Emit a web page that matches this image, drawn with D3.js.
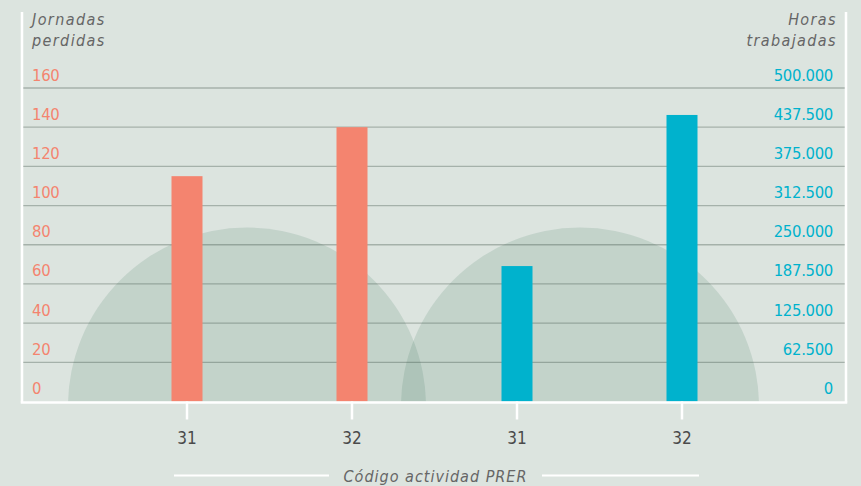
<!DOCTYPE html>
<html>
<head>
<meta charset="utf-8">
<script src="https://cdn.jsdelivr.net/npm/d3@7"></script>
<style>
  html, body { margin: 0; padding: 0; background: #dce4df; }
  svg { display: block; }
  text { font-family: "DejaVu Sans Condensed", "Liberation Sans Narrow", sans-serif; }
</style>
</head>
<body>
<div id="chartArea"></div>
<script>
// Chart values
const codes = ["31", "32", "31", "32"];
const keys = ["j31", "j32", "h31", "h32"];
const jornadas = [115, 140];          // Jornadas perdidas (left axis)
const horas = [216000, 457000];       // Horas trabajadas (right axis)
const leftTicks = [0, 20, 40, 60, 80, 100, 120, 140, 160];
const rightTicks = [0, 62500, 125000, 187500, 250000, 312500, 375000, 437500, 500000];

function drawGraph() {
    let width = 861, height = 486;

    // plot frame
    let frame = { left: 22, right: 846, top: 12, base: 401.5, topValue: 88 };

    let svg = d3.select('#chartArea')
        .append('svg')
            .attr('width', width)
            .attr('height', height);

    let xScale = d3.scaleBand()
        .domain(keys)
        .range([104.5, 764.5]);

    let yLeft = d3.scaleLinear().domain([0, 160]).range([frame.base, frame.topValue]);
    let yRight = d3.scaleLinear().domain([0, 500000]).range([frame.base, frame.topValue]);

    let es = d3.formatLocale({ decimal: ',', thousands: '.', grouping: [3], currency: ['', '€'] });
    let fmtRight = es.format(',');

    // decorative half discs behind the bars
    svg.append('clipPath').attr('id', 'above')
        .append('rect')
            .attr('x', 0).attr('y', 0)
            .attr('width', width).attr('height', frame.base);

    svg.append('g')
        .attr('clip-path', 'url(#above)')
        .selectAll('circle')
        .data([247, 580])
        .enter().append('circle')
            .attr('cx', d => d)
            .attr('cy', frame.base + 5)
            .attr('r', 179)
            .attr('fill', 'rgb(53,115,90)')
            .attr('fill-opacity', 0.15);

    // gridlines
    svg.append('g')
        .selectAll('line')
        .data(leftTicks.filter(d => d > 0))
        .enter().append('line')
            .attr('x1', frame.left)
            .attr('x2', frame.right)
            .attr('y1', d => yLeft(d))
            .attr('y2', d => yLeft(d))
            .attr('stroke', 'rgb(40,60,50)')
            .attr('stroke-opacity', 0.3)
            .attr('stroke-width', 1.3);

    // tick labels left
    svg.append('g')
        .selectAll('text')
        .data(leftTicks)
        .enter().append('text')
            .attr('x', 32)
            .attr('y', d => yLeft(d) - 7.5)
            .attr('fill', '#f4846f')
            .style('font-size', '16.5px')
            .style('letter-spacing', '-0.3px')
            .text(d => d);

    // tick labels right
    svg.append('g')
        .selectAll('text')
        .data(rightTicks)
        .enter().append('text')
            .attr('x', 833)
            .attr('y', d => yRight(d) - 7.5)
            .attr('text-anchor', 'end')
            .attr('fill', '#00b2cd')
            .style('font-size', '16.5px')
            .style('letter-spacing', '-0.3px')
            .text(d => fmtRight(d));

    // axis titles
    let leftTitle = svg.append('text')
        .attr('x', 32)
        .attr('fill', '#666')
        .style('font-size', '16px')
        .style('font-style', 'italic')
        .style('letter-spacing', '1.4px');
    leftTitle.append('tspan').attr('x', 32).attr('y', 25).text('Jornadas');
    leftTitle.append('tspan').attr('x', 32).attr('y', 46).text('perdidas');

    let rightTitle = svg.append('text')
        .attr('text-anchor', 'end')
        .attr('fill', '#666')
        .style('font-size', '16px')
        .style('font-style', 'italic')
        .style('letter-spacing', '1.4px');
    rightTitle.append('tspan').attr('x', 837).attr('y', 25).text('Horas');
    rightTitle.append('tspan').attr('x', 837).attr('y', 46).text('trabajadas');

    // bars
    let bw = 31;
    svg.append('g')
        .selectAll('rect')
        .data(jornadas)
        .enter().append('rect')
            .attr('x', (d, i) => xScale(keys[i]) + xScale.bandwidth() / 2 - bw / 2)
            .attr('y', d => yLeft(d))
            .attr('width', bw)
            .attr('height', d => frame.base - yLeft(d))
            .attr('fill', '#f4846f');

    svg.append('g')
        .selectAll('rect')
        .data(horas)
        .enter().append('rect')
            .attr('x', (d, i) => xScale(keys[i + 2]) + xScale.bandwidth() / 2 - bw / 2)
            .attr('y', d => yRight(d))
            .attr('width', bw)
            .attr('height', d => frame.base - yRight(d))
            .attr('fill', '#00b2cd');

    // white frame
    let frameG = svg.append('g').attr('stroke', '#fff').attr('stroke-width', 2.5);
    frameG.append('line')
        .attr('x1', frame.left).attr('x2', frame.left)
        .attr('y1', frame.top).attr('y2', frame.base + 1);
    frameG.append('line')
        .attr('x1', frame.right).attr('x2', frame.right)
        .attr('y1', frame.top).attr('y2', frame.base + 1);

    // x axis
    let xAxis = d3.axisBottom(xScale)
        .tickSize(18)
        .tickPadding(12)
        .tickFormat((d, i) => codes[i]);

    let gx = svg.append('g')
        .attr('class', 'x axis')
        .attr('transform', 'translate(0,' + frame.base + ')')
        .call(xAxis);

    gx.select('.domain').remove();
    gx.selectAll('.tick line').attr('stroke', '#fff').attr('stroke-width', 2.5);
    gx.selectAll('.tick text')
        .attr('fill', '#4a4a4a')
        .style('font-size', '17px')
        .style('font-family', '"DejaVu Sans Condensed", sans-serif');

    frameG.append('line')
        .attr('x1', frame.left - 1.25).attr('x2', frame.right + 1.25)
        .attr('y1', frame.base + 1).attr('y2', frame.base + 1);

    // x axis title with rules
    svg.append('text')
        .attr('x', 435.5)
        .attr('y', 482)
        .attr('text-anchor', 'middle')
        .attr('fill', '#666')
        .style('font-size', '16px')
        .style('font-style', 'italic')
        .style('letter-spacing', '1px')
        .text('Código actividad PRER');

    let rule = svg.append('g').attr('stroke', '#fff').attr('stroke-width', 2);
    rule.append('line').attr('x1', 174).attr('x2', 329).attr('y1', 475.5).attr('y2', 475.5);
    rule.append('line').attr('x1', 542).attr('x2', 699).attr('y1', 475.5).attr('y2', 475.5);
}

drawGraph();
</script>
</body>
</html>
